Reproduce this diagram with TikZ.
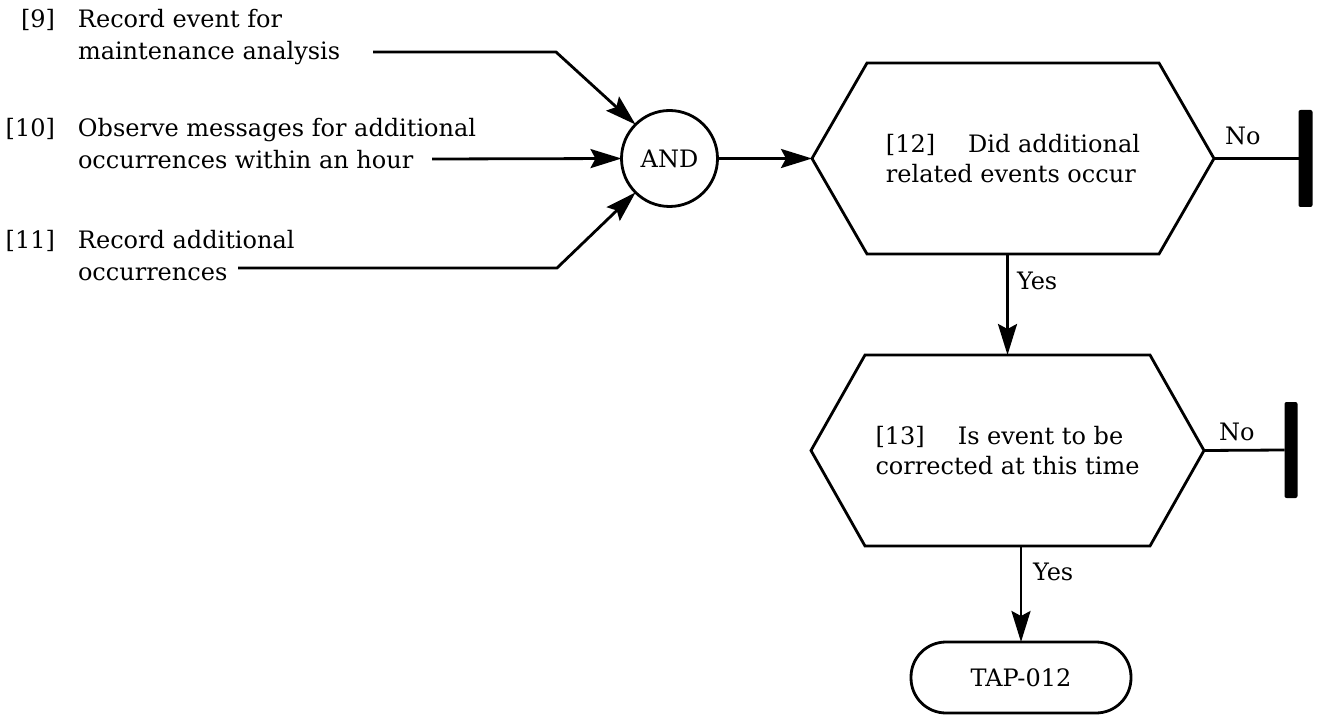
\documentclass[tikz,border=0pt]{standalone}
\usepackage{fontspec}
\setmainfont{DejaVu Serif}
\usetikzlibrary{arrows.meta,calc}

\tikzset{
  ln/.style={line width=2.8pt, line join=miter},
  arr/.style={ln, -{Stealth[length=31pt,width=19pt,inset=5pt]}},
  txt/.style={inner sep=0pt, outer sep=0pt, font=\fontsize{24}{32}\selectfont},
  hexbox/.style={txt, draw=none, align=left, minimum height=191pt},
  andgate/.style={txt, draw, line width=2.8pt, circle, minimum size=96pt},
  terminal/.style={txt, draw, line width=2.8pt, rounded corners=35pt,
                   minimum width=220pt, minimum height=71pt},
  stopbar/.style={fill=black, draw=none, rounded corners=2pt, inner sep=0pt,
                  outer sep=0pt, minimum width=14pt, minimum height=97pt},
}

% outline of a decision hexagon laid over a named box node
\newcommand\hexoutline[2]{%
  \draw[ln] (#1.west) -- ([xshift=#2]#1.north west) -- ([xshift=-#2]#1.north east)
    -- (#1.east) -- ([xshift=-#2]#1.south east) -- ([xshift=#2]#1.south west) -- cycle;}

% numbered step text: number flush right, description in a second column
\newcommand\steptext[3]{%
  \begin{tabular}[t]{@{}l@{}}\makebox[55pt][r]{#1}\hspace{23pt}#2\\
  \hspace{78pt}#3\end{tabular}}

\begin{document}
\begin{tikzpicture}[x=1pt,y=-1pt]
  \useasboundingbox (0,0) rectangle (1317,719);

  % input steps
  \node[txt, anchor=base west] (t9)  at (0,28)  {\steptext{[9]}{Record event for}{maintenance analysis}};
  \node[txt, anchor=base west] (t10) at (0,137) {\steptext{[10]}{Observe messages for additional}{occurrences within an hour}};
  \node[txt, anchor=base west] (t11) at (0,249) {\steptext{[11]}{Record additional}{occurrences}};

  \coordinate (s9)  at (373,52);
  \coordinate (k9)  at (556,52);
  \coordinate (s10) at (432,159);
  \coordinate (s11) at (238,268);
  \coordinate (k11) at (557,268);

  % AND gate
  \node[andgate] (and) at (669.5,158.5) {AND};

  % decisions
  \node[hexbox, minimum width=402pt] (d12) at (1013,158.5)
    {[12]\hspace{33pt}Did additional\\[-2pt]related events occur};
  \hexoutline{d12}{55pt}
  \node[hexbox, minimum width=393pt] (d13) at (1007.5,450.5)
    {[13]\hspace{33pt}Is event to be\\[-2pt]corrected at this time};
  \hexoutline{d13}{54pt}

  % stop bars
  \node[stopbar] (b12) at (1305.5,158.5) {};
  \node[stopbar, minimum width=13pt, minimum height=96pt] (b13) at (1291,450) {};

  % terminal
  \node[terminal] (tap) at (1021,677.5) {TAP-012};

  % connectors
  \draw[arr] (s9) -- (k9) -- (and.135);
  \draw[arr] (s10) -- (and.west);
  \draw[arr] (s11) -- (k11) -- (and.225);
  \draw[arr] (and.east) -- (d12.west);
  \draw[ln] (d12.east) -- (b12.west);
  \draw[ln] (d13.east) -- (b13.west);
  \draw[arr] (d12.south -| d13.north) -- (d13.north);
  \draw[arr] (d13.south -| tap.north) -- (tap.north);

  % branch labels
  \node[txt, anchor=base west] (no12)  at (1225,145) {No};
  \node[txt, anchor=base west] (no13)  at (1219,440) {No};
  \node[txt, anchor=base west] (yes12) at (1017,290) {Yes};
  \node[txt, anchor=base west] (yes13) at (1033,580) {Yes};
\end{tikzpicture}
\end{document}
